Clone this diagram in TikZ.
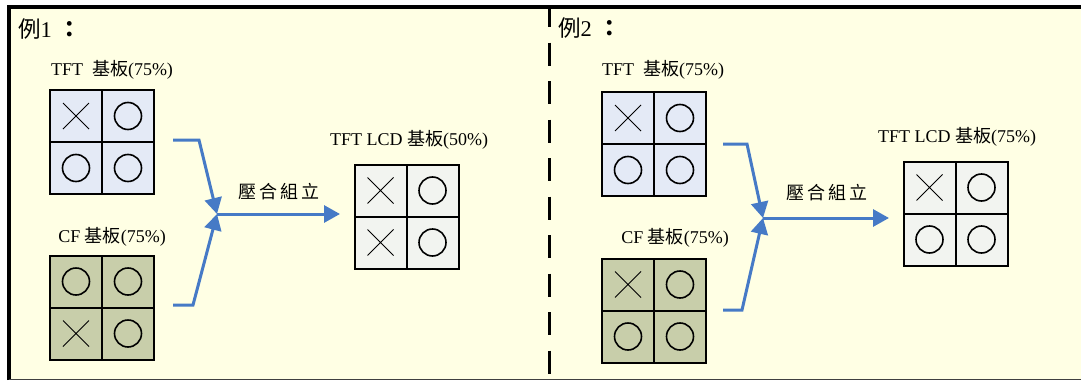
\documentclass[tikz,border=0pt]{standalone}
\usepackage{fontspec}
\setmainfont{Liberation Serif}
\newfontfamily\cjk{Noto Sans CJK TC}
\newfontfamily\cjkwide[LetterSpace=17]{Noto Sans CJK TC}
\usetikzlibrary{arrows.meta}

\definecolor{paper}{RGB}{255,255,228}
\definecolor{tftfill}{RGB}{228,234,246}
\definecolor{cffill}{RGB}{200,206,170}
\definecolor{lcdfill}{RGB}{242,244,240}
\definecolor{flowblue}{RGB}{70,122,198}

\tikzset{
  panel/.style={draw=black, line width=2pt, minimum size=104pt, inner sep=0pt, outer sep=0pt},
  divider/.style={draw=black, line width=2pt},
  lbl/.style={font=\fontsize{18}{20}\selectfont, inner sep=0pt},
  title/.style={font=\fontsize{22.5}{25}\selectfont, inner sep=0pt, anchor=west},
  steptext/.style={font=\fontsize{18}{20}\cjkwide, inner sep=0pt},
  flow/.style={draw=flowblue, line width=3pt, line join=miter,
    -{Triangle[length=16pt,width=17pt]}},
  xmark/.pic={\draw[line width=1pt] (-13,-13) -- (13,13) (-13,13) -- (13,-13);},
  omark/.pic={\draw[line width=1.6pt] (0,0) circle[radius=13.5];},
}

% 2x2 panel: name, centre, fill, marks for TL TR BL BR
\newcommand{\gridpanel}[7]{%
  \node[panel, fill=#3] (#1) at #2 {};
  \draw[divider] (#1.north) -- (#1.south) (#1.west) -- (#1.east);
  \pic at ([shift={(-26,-26)}]#1.center) {#4};
  \pic at ([shift={(26,-26)}]#1.center) {#5};
  \pic at ([shift={(-26,26)}]#1.center) {#6};
  \pic at ([shift={(26,26)}]#1.center) {#7};
}

\begin{document}
\begin{tikzpicture}[x=1pt, y=-1pt]
\useasboundingbox (0,0) rectangle (1081,380);

% frame
\fill[white] (0,0) rectangle (1081,380);
\fill[paper] (9,7) rectangle (1081,380);
\draw[line width=4pt] (9,380) -- (9,7) -- (1081,7);
\draw[line width=1.2pt, black!75] (9,379.4) -- (1081,379.4);
\draw[line width=3pt, dash pattern=on 23pt off 15.5pt, dash phase=4pt] (549,8) -- (549,376);

% ---------- example 1 ----------
\node[title] (t1) at (18,29) {{\cjk 例}1\hspace{7pt}{\bfseries\cjk ：}};

\node[lbl] (l1a) at (112,70) {TFT\hspace{9pt}{\cjk 基板}(75\%)};
\gridpanel{a1}{(102,142)}{tftfill}{xmark}{omark}{omark}{omark}

\node[lbl] (l1b) at (112,237) {CF {\cjk 基板}(75\%)};
\gridpanel{b1}{(102,307.5)}{cffill}{omark}{omark}{xmark}{omark}

\node[lbl] (l1c) at (409,140) {TFT LCD {\cjk 基板}(50\%)};
\gridpanel{c1}{(406.5,216.5)}{lcdfill}{xmark}{omark}{xmark}{omark}

\coordinate (s1a) at (173,140);
\coordinate (k1a) at (199,140);
\coordinate (s1b) at (173,305);
\coordinate (k1b) at (193,305);
\coordinate (j1) at (217,214);
\coordinate (e1) at (340,214);
\draw[flow] (s1a) -- (k1a) -- (j1);
\draw[flow] (s1b) -- (k1b) -- (j1);
\draw[flow] (j1) -- (e1);
\node[steptext] (p1) at (279,192) {壓合組立};

% ---------- example 2 ----------
\node[title] (t2) at (558,28) {{\cjk 例}2\hspace{7pt}{\bfseries\cjk ：}};

\node[lbl] (l2a) at (663,70) {TFT\hspace{9pt}{\cjk 基板}(75\%)};
\gridpanel{a2}{(654,144)}{tftfill}{xmark}{omark}{omark}{omark}

\node[lbl] (l2b) at (675,238) {CF {\cjk 基板}(75\%)};
\gridpanel{b2}{(654,310.5)}{cffill}{xmark}{omark}{omark}{omark}

\node[lbl] (l2c) at (957,137) {TFT LCD {\cjk 基板}(75\%)};
\gridpanel{c2}{(955.5,213.5)}{lcdfill}{xmark}{omark}{omark}{omark}

\coordinate (s2a) at (723,144);
\coordinate (k2a) at (747,144);
\coordinate (s2b) at (723,310);
\coordinate (k2b) at (742,310);
\coordinate (j2) at (763,218);
\coordinate (e2) at (889,218);
\draw[flow] (s2a) -- (k2a) -- (j2);
\draw[flow] (s2b) -- (k2b) -- (j2);
\draw[flow] (j2) -- (e2);
\node[steptext] (p2) at (827,193) {壓合組立};
\end{tikzpicture}
\end{document}
